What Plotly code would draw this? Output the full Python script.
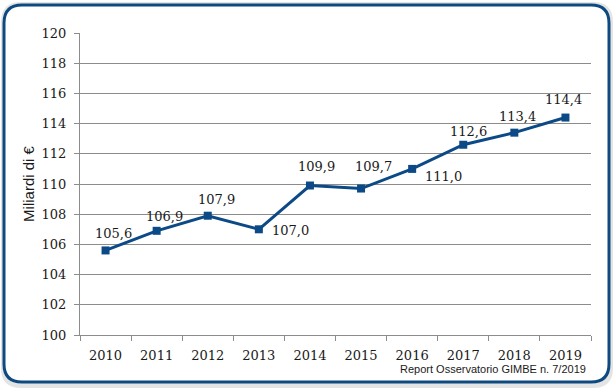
import plotly.graph_objects as go

years = ["2010", "2011", "2012", "2013", "2014", "2015", "2016", "2017", "2018", "2019"]
values = [105.6, 106.9, 107.9, 107.0, 109.9, 109.7, 111.0, 112.6, 113.4, 114.4]
labels = ["105,6", "106,9", "107,9", "107,0", "109,9", "109,7", "111,0", "112,6", "113,4", "114,4"]
# label offsets in pixels (style only)
label_dx = [8, 8, 9, 32, 7, 12, 31, 5, 3, -2]
label_dy = [17, 14, 16, -1, 19, 22, -8, 13, 16, 18]

W, H = 615, 390
L, R, T, B = 80, 591, 33, 335

def px(x):
    return (x - L) / (R - L)

def py(y):
    return (B - y) / (B - T)

def rounded(x0, y0, x1, y1, r):
    return (f"M {px(x0+r)},{py(y0)} L {px(x1-r)},{py(y0)} Q {px(x1)},{py(y0)} {px(x1)},{py(y0+r)} "
            f"L {px(x1)},{py(y1-r)} Q {px(x1)},{py(y1)} {px(x1-r)},{py(y1)} "
            f"L {px(x0+r)},{py(y1)} Q {px(x0)},{py(y1)} {px(x0)},{py(y1-r)} "
            f"L {px(x0)},{py(y0+r)} Q {px(x0)},{py(y0)} {px(x0+r)},{py(y0)} Z")

fig = go.Figure()
fig.add_trace(go.Scatter(
    x=years, y=values, mode="lines+markers",
    line=dict(color="#0B4A87", width=3),
    marker=dict(symbol="square", size=8, color="#0B4A87"),
    cliponaxis=False, showlegend=False,
))

annotations = []
for i, (v, t, dx, dy) in enumerate(zip(values, labels, label_dx, label_dy)):
    annotations.append(dict(
        x=i, y=v, xref="x", yref="y", text=t, showarrow=False,
        xanchor="center", yanchor="middle", xshift=dx, yshift=dy,
        font=dict(family="DejaVu Serif", size=13, color="#1a1a1a"),
    ))
annotations.append(dict(
    text="Report Osservatorio GIMBE n. 7/2019", xref="paper", yref="paper",
    x=px(588), y=py(377), xanchor="right", yanchor="bottom", showarrow=False,
    font=dict(family="Liberation Sans", size=11, color="#1a1a1a"),
))

shapes = [
    dict(type="path", xref="paper", yref="paper", path=rounded(1, 2, 613, 388, 20),
         fillcolor="#e4e4e4", line=dict(width=0), layer="below"),
    dict(type="path", xref="paper", yref="paper", path=rounded(4, 5, 609, 382, 18),
         fillcolor="white", line=dict(color="#0E4A80", width=3), layer="below"),
]

fig.update_layout(
    width=W, height=H,
    margin=dict(l=L, r=W - R, t=T, b=H - B),
    paper_bgcolor="white", plot_bgcolor="#E6E7EB",
    shapes=shapes,
    annotations=annotations,
    xaxis=dict(
        type="category", tickson="boundaries", ticks="outside", ticklen=5,
        tickcolor="#8c8c8c", showgrid=False, showline=True, linecolor="#8c8c8c",
        tickfont=dict(family="DejaVu Serif", size=13, color="#1a1a1a"),
        ticklabelstandoff=8,
        range=[-0.5, 9.5],
    ),
    yaxis=dict(
        range=[100, 120], dtick=2, ticks="outside", ticklen=5, tickcolor="#8c8c8c",
        showgrid=True, gridcolor="#8c8c8c", gridwidth=1,
        showline=True, linecolor="#8c8c8c", zeroline=False,
        tickfont=dict(family="DejaVu Serif", size=13, color="#1a1a1a"),
        ticklabelstandoff=5,
        title=dict(text="Miliardi di €", font=dict(family="Liberation Sans", size=15, color="#1a1a1a"),
                   standoff=3),
    ),
)

fig.write_html("out.html", config={"displayModeBar": False},
               post_script="document.body.style.margin='0px';")
